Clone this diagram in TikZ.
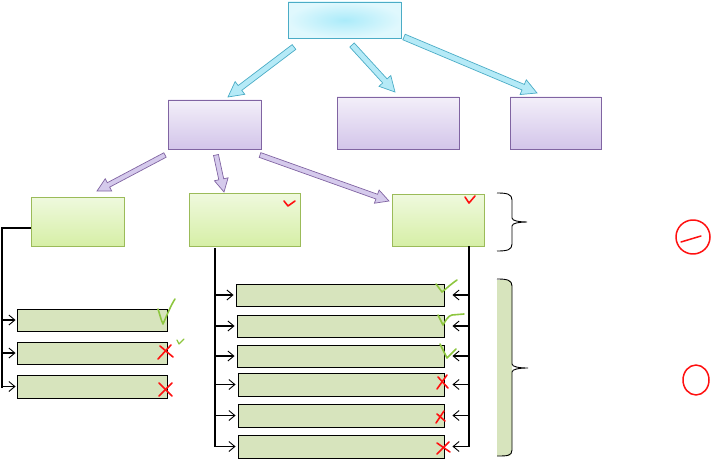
\documentclass[tikz,border=0pt]{standalone}
\usetikzlibrary{calc,arrows.meta}
\definecolor{cyanline}{HTML}{4BACC6}
\definecolor{cyanfill}{HTML}{B5EAF7}
\definecolor{cyanin}{HTML}{ABEBFA}
\definecolor{cyanout}{HTML}{E0F8FD}
\definecolor{purpline}{HTML}{8064A2}
\definecolor{purpfill}{HTML}{D5CAEC}
\definecolor{purptop}{HTML}{F3EFF9}
\definecolor{purpbot}{HTML}{D3C5EA}
\definecolor{grnline}{HTML}{9BBB59}
\definecolor{grntop}{HTML}{EFF9DE}
\definecolor{grnbot}{HTML}{D6EFA6}
\definecolor{olive}{HTML}{D7E4BD}
\definecolor{tick}{HTML}{8DC63F}
\definecolor{cross}{HTML}{FF1010}
\newcommand\blockarr[6]{%
  \coordinate (ba-h) at ($(#2)!#5!(#1)$);
  \draw[#6] ($(#1)!#3!90:(#2)$) -- ($(ba-h)!#3!90:(#2)$) -- ($(ba-h)!#4!90:(#2)$) -- (#2)
    -- ($(ba-h)!#4!-90:(#2)$) -- ($(ba-h)!#3!-90:(#2)$) -- ($(#1)!#3!-90:(#2)$) -- cycle;
}
\tikzset{
  topbox/.style={draw=cyanline, line width=0.9pt, inner color=cyanin, outer color=cyanout},
  purpbox/.style={draw=purpline, line width=0.9pt, top color=purptop, bottom color=purpbot},
  grnbox/.style={draw=grnline, line width=0.9pt, top color=grntop, bottom color=grnbot},
  olbox/.style={draw=black, line width=0.9pt, fill=olive},
  cyanarr/.style={draw=cyanline, line width=0.7pt, fill=cyanfill},
  purparr/.style={draw=purpline, line width=0.7pt, fill=purpfill},
  conn/.style={draw=black, line width=1.1pt},
  tip/.style={conn, -{Straight Barb[length=6pt, width=10pt, line width=0.9pt]}},
  okmark/.style={draw=tick, line width=1.6pt, line cap=round, line join=round},
  badmark/.style={draw=cross, line width=1.6pt, line cap=round, line join=round},
}
\begin{document}
\begin{tikzpicture}[x=1pt, y=-1pt]
\useasboundingbox (0,0) rectangle (713,460);
% boxes
\node[topbox, minimum width=113pt, minimum height=36pt] (top) at (344.5,20) {};
\node[purpbox, minimum width=93pt, minimum height=49pt] (p1) at (214.5,124.5) {};
\node[purpbox, minimum width=122pt, minimum height=52pt] (p2) at (398,123) {};
\node[purpbox, minimum width=91pt, minimum height=52pt] (p3) at (555.5,123) {};
\node[grnbox, minimum width=93pt, minimum height=49pt] (g1) at (77.5,221.5) {};
\node[grnbox, minimum width=111pt, minimum height=53pt] (g2) at (244.5,219.5) {};
\node[grnbox, minimum width=92pt, minimum height=52pt] (g3) at (438,220) {};
\node[olbox, minimum width=150pt, minimum height=22pt] (s1) at (92,320) {};
\node[olbox, minimum width=150pt, minimum height=22pt] (s2) at (92,353) {};
\node[olbox, minimum width=150pt, minimum height=23pt] (s3) at (92,386.5) {};
\node[olbox, minimum width=208pt, minimum height=22pt] (w1) at (340,295) {};
\node[olbox, minimum width=207pt, minimum height=22pt] (w2) at (340.5,326) {};
\node[olbox, minimum width=207pt, minimum height=22pt] (w3) at (340.5,356) {};
\node[olbox, minimum width=206pt, minimum height=23pt] (w4) at (341,384.5) {};
\node[olbox, minimum width=206pt, minimum height=23pt] (w5) at (341,415.5) {};
\node[olbox, minimum width=206pt, minimum height=23pt] (w6) at (341,446.5) {};
% block arrows
\coordinate (c1a) at (294,47); \coordinate (c1b) at (228,97);
\coordinate (c2a) at (352,45); \coordinate (c2b) at (395,92);
\coordinate (c3a) at (404,37); \coordinate (c3b) at (537,93);
\blockarr{c1a}{c1b}{3pt}{8pt}{15pt}{cyanarr}
\blockarr{c2a}{c2b}{3pt}{8pt}{15pt}{cyanarr}
\blockarr{c3a}{c3b}{3pt}{8pt}{15pt}{cyanarr}
\coordinate (d1a) at (165,155); \coordinate (d1b) at (97,191);
\coordinate (d2a) at (216,155); \coordinate (d2b) at (224,192);
\coordinate (d3a) at (260,155); \coordinate (d3b) at (389,201);
\blockarr{d1a}{d1b}{2.5pt}{7pt}{13pt}{purparr}
\blockarr{d2a}{d2b}{2.5pt}{7pt}{13pt}{purparr}
\blockarr{d3a}{d3b}{2.5pt}{7pt}{13pt}{purparr}
% left column connectors
\coordinate (lt) at (2,228); \coordinate (lb) at (2,388);
\draw[conn] (g1.west |- lt) -- (lt) -- (lb);
\foreach \n in {s1,s2,s3} \draw[tip] (lt |- \n.west) -- ([xshift=-1pt]\n.west);
% middle column connectors
\coordinate (mt) at (215,248); \coordinate (mb) at (215,447);
\draw[conn] (mt) -- (mb);
\foreach \n in {w1,w2,w3,w4,w5,w6} \draw[tip] (mt |- \n.west) -- ([xshift=-2pt]\n.west);
% right column connectors
\coordinate (rt) at (469,246); \coordinate (rb) at (469,447);
\draw[conn] (rt) -- (rb);
\foreach \n in {w1,w2,w3,w4,w5,w6} \draw[tip] (rt |- \n.east) -- ([xshift=8pt]\n.east);
% braces
\draw[line width=0.9pt] (497,193) .. controls (507,193) and (512,194) .. (512,200) -- (512,218)
  .. controls (512,221) and (520,222) .. (527,222) .. controls (520,222) and (512,223) .. (512,226)
  -- (512,244) .. controls (512,250) and (507,251) .. (497,251);
\fill[olive] (497,280) -- (510,280) -- (512,284) -- (512,451) -- (510,456) -- (497,456) -- cycle;
\draw[line width=0.9pt] (497,279) .. controls (507,279) and (512,280) .. (512,286) -- (512,364)
  .. controls (512,367) and (520,368) .. (528,368) .. controls (520,368) and (512,369) .. (512,372)
  -- (512,450) .. controls (512,456) and (507,456) .. (497,456);
% marks on green boxes
\draw[badmark] (284,201) -- (288,206) -- (295,201);
\draw[badmark] (465,197) -- (469,203) -- (475,196);
% left small boxes marks
\draw[okmark] (158,309) .. controls (160,315) and (161,320) .. (163,324) .. controls (167,315) and (171,305) .. (175,299);
\draw[badmark] (160,346) -- (173,357); \draw[badmark] (158,359) -- (171,345);
\draw[okmark, line width=1.2pt] (177,340) -- (179,344) -- (184,339);
\draw[badmark] (159,383) -- (172,396); \draw[badmark] (159,396) -- (172,383);
% wide boxes marks
\draw[okmark] (436,284) -- (442,292) .. controls (447,288) and (451,284) .. (457,280);
\draw[okmark] (438,315) -- (443,325) .. controls (446,320) and (448,316) .. (452,315) -- (464,314);
\draw[okmark] (440,344) -- (447,358) -- (456,349);
\draw[badmark] (437,389) -- (447,375); \draw[badmark] (438,377) -- (448,388);
\draw[badmark] (436,423) -- (444,411); \draw[badmark] (437,414) -- (445,421);
\draw[badmark] (437,454) -- (449,442); \draw[badmark] (437,443) -- (450,452);
% red circles
\draw[badmark, line width=1.5pt] (693,237) ellipse [x radius=17pt, y radius=17pt];
\draw[badmark, line width=1.5pt] (681,242) -- (701,236);
\draw[badmark, line width=1.5pt] (696,380) ellipse [x radius=13pt, y radius=15pt];
\end{tikzpicture}
\end{document}
